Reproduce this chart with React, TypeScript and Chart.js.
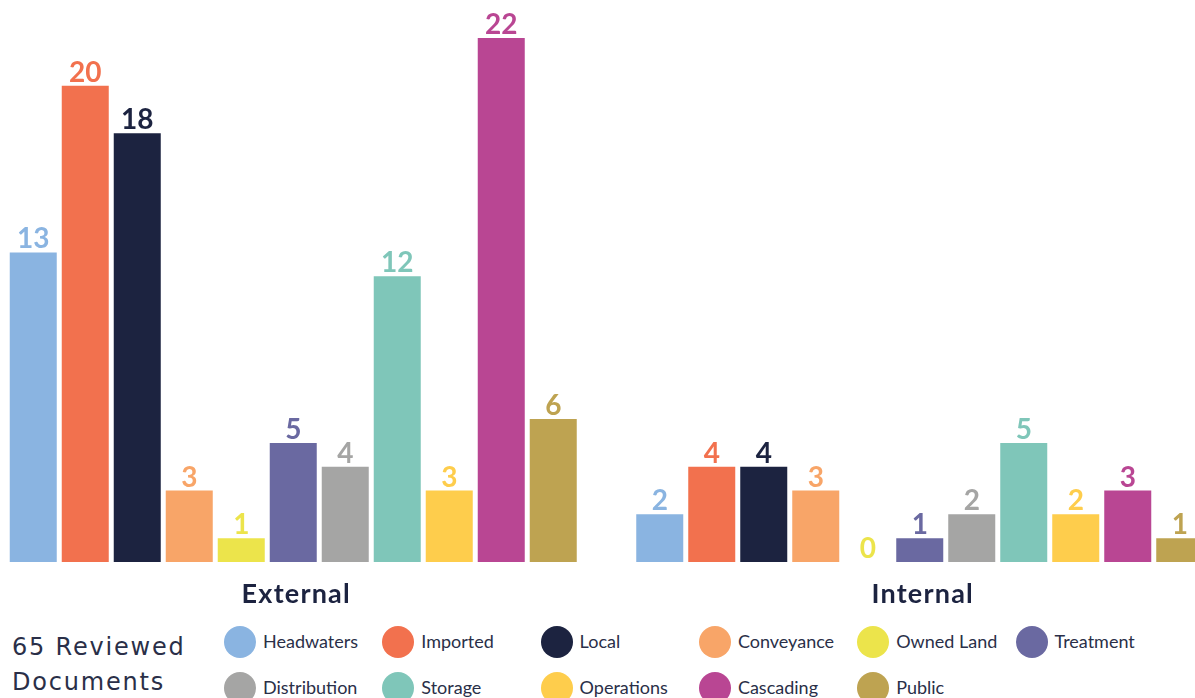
import React, { useEffect, useRef } from "react";
import { Chart, registerables } from "chart.js";

Chart.register(...registerables);

const groups = ["External", "Internal"];
const seriesNames = [
  "Headwaters",
  "Imported",
  "Local",
  "Conveyance",
  "Owned Land",
  "Treatment",
  "Distribution",
  "Storage",
  "Operations",
  "Cascading",
  "Public",
];
const externalValues = [13, 20, 18, 3, 1, 5, 4, 12, 3, 22, 6];
const internalValues = [2, 4, 4, 3, 0, 1, 2, 5, 2, 3, 1];
const seriesColors = [
  "#8AB4E1",
  "#F2714E",
  "#1C2340",
  "#F8A568",
  "#ECE44B",
  "#6A69A1",
  "#A5A5A4",
  "#7FC6B9",
  "#FECD4C",
  "#B94693",
  "#BEA351",
];
const summaryLines = ["65 Reviewed", "Documents"];

const labelPlugin = {
  id: "barValueLabels",
  afterDatasetsDraw(chart: any) {
    const ctx = chart.ctx;
    ctx.save();
    ctx.textAlign = "center";
    ctx.textBaseline = "alphabetic";
    ctx.font = "bold 28px Lato";
    chart.data.datasets.forEach((ds: any, i: number) => {
      const meta = chart.getDatasetMeta(i);
      meta.data.forEach((bar: any, j: number) => {
        ctx.fillStyle = ds.backgroundColor;
        ctx.fillText(String(ds.data[j]), bar.x, bar.y - 4);
      });
    });
    const xs = chart.scales.x;
    ctx.fillStyle = "#1C2340";
    ctx.font = "bold 27px Lato";
    try {
      (ctx as any).letterSpacing = "1.2px";
    } catch (e) {}
    groups.forEach((g, j) => {
      ctx.fillText(g, xs.getPixelForValue(j) + 3, 603);
    });
    ctx.restore();
  },
};

export default function App() {
  const ref = useRef<HTMLCanvasElement | null>(null);
  useEffect(() => {
    if (!ref.current) return;
    const chart = new Chart(ref.current, {
      type: "bar",
      data: {
        labels: groups,
        datasets: seriesNames.map((name, i) => ({
          label: name,
          data: [externalValues[i], internalValues[i]],
          backgroundColor: seriesColors[i],
          borderWidth: 0,
          categoryPercentage: 0.913,
          barPercentage: 0.904,
        })),
      },
      options: {
        responsive: false,
        animation: false,
        layout: { padding: { top: 0, left: 0, right: 0, bottom: 60 } },
        plugins: {
          legend: { display: false },
          tooltip: { enabled: false },
        },
        scales: {
          x: { display: false },
          y: { display: false, min: 0, max: 23.6 },
        },
      },
      plugins: [labelPlugin],
    });
    return () => chart.destroy();
  }, []);

  return (
    <div
      style={{
        position: "fixed",
        left: 0,
        top: 0,
        width: 1195,
        height: 698,
        overflow: "hidden",
        background: "#fff",
      }}
    >
      <canvas
        ref={ref}
        width={1253}
        height={622}
        style={{ position: "absolute", left: -20, top: 0, width: 1253, height: 622 }}
      />
      <div
        style={{
          position: "absolute",
          left: 12,
          top: 630,
          fontFamily: "'DejaVu Sans'",
          fontSize: 24,
          lineHeight: "35px",
          letterSpacing: "1.8px",
          color: "#2A2F48",
          whiteSpace: "nowrap",
        }}
      >
        {summaryLines.map((l) => (
          <div key={l}>{l}</div>
        ))}
      </div>
      {seriesNames.map((name, i) => {
        const col = i % 6;
        const row = Math.floor(i / 6);
        const cx = 240 + col * 158.3;
        const cy = 642 + row * 46;
        return (
          <div key={name}>
            <div
              style={{
                position: "absolute",
                left: cx - 16,
                top: cy - 16,
                width: 32,
                height: 32,
                borderRadius: "50%",
                background: seriesColors[i],
              }}
            />
            <div
              style={{
                position: "absolute",
                left: cx + 23,
                top: cy - 13,
                height: 24,
                lineHeight: "24px",
                fontFamily: "Lato",
                fontSize: 18,
                color: "#2A2F48",
                whiteSpace: "nowrap",
              }}
            >
              {name}
            </div>
          </div>
        );
      })}
    </div>
  );
}
